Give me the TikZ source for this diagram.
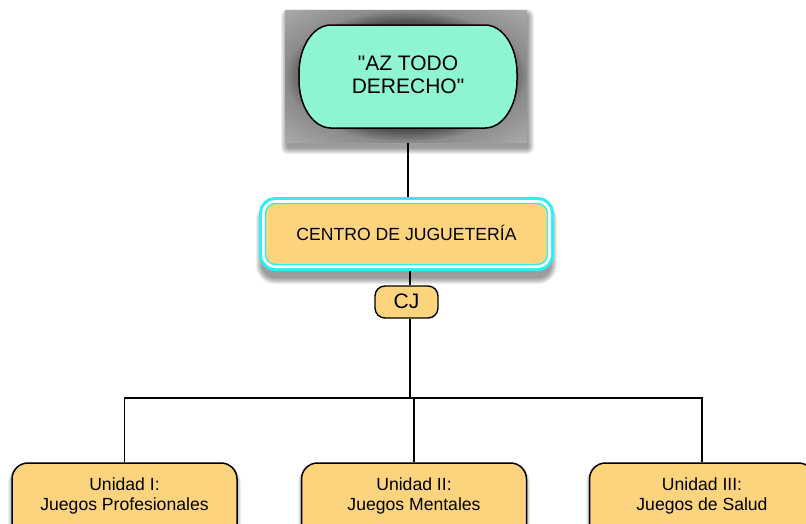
\documentclass[tikz,border=0pt]{standalone}
\usepackage{fontspec}
\setmainfont{Liberation Sans}[Ligatures=TeXOff]
\pgfdeclarelayer{bg}
\pgfsetlayers{bg,main}
\definecolor{mint}{RGB}{142,245,208}
\definecolor{boxorange}{RGB}{253,212,126}
\definecolor{glow}{RGB}{45,238,245}
\definecolor{fdark}{RGB}{62,62,62}
\definecolor{fmid}{RGB}{85,85,85}
\definecolor{flight}{RGB}{140,140,140}
\definecolor{fedge}{RGB}{172,172,172}
\pgfdeclareradialshading{framefill}{\pgfpoint{0bp}{0bp}}{color(0bp)=(fdark); color(17bp)=(fdark); color(21bp)=(fmid); color(25bp)=(flight); color(36bp)=(fedge); color(50bp)=(fedge)}
% soft shadow: x1 y1 x2 y2 radius steps
\newcommand\softshadow[6]{%
  \foreach \i in {1,...,#6}{%
    \fill[black, fill opacity=0.065, rounded corners={#5pt+\i pt}] (#1-\i,#2-\i) rectangle (#3+\i,#4+\i);}}
\tikzset{
  conn/.style={draw=black, line width=1.3pt},
  unitbox/.style={draw=black, line width=1.5pt, fill=boxorange, rounded corners=16pt,
    minimum width=225pt, minimum height=77pt, inner sep=0pt},
  unittext/.style={font=\fontsize{17.6}{20.5}\selectfont, align=center, inner sep=0pt},
}
\begin{document}
\begin{tikzpicture}[x=1pt, y=1pt]
\useasboundingbox (0,0) rectangle (806,-523);
\begin{pgfonlayer}{bg}
  \fill[white] (0,0) rectangle (806,-523);
\end{pgfonlayer}
% gray frame
\softshadow{288}{-147}{527}{-16}{0}{7}
\shade[shading=framefill] (285,-10) rectangle (527,-142);
% mint stadium shape
\draw[line width=1.5pt, fill=mint] (331,-25) -- (485,-25)
  .. controls (502.67,-25) and (517,-46.5) .. (517,-73) -- (517,-80)
  .. controls (517,-106.5) and (502.67,-128) .. (485,-128) -- (331,-128)
  .. controls (313.33,-128) and (299,-106.5) .. (299,-80) -- (299,-73)
  .. controls (299,-46.5) and (313.33,-25) .. (331,-25) -- cycle;
\node[font=\fontsize{21}{23.5}\selectfont, align=center, minimum width=218pt, minimum height=103pt, inner sep=0pt] (top) at (408,-74.7) {"AZ TODO\\DERECHO"};
% centro
\softshadow{263}{-277}{550}{-208}{12}{7}
\node[fill=boxorange, draw=glow, line width=1.4pt, rounded corners=10pt,
  minimum width=282pt, minimum height=61pt, inner sep=0pt,
  preaction={draw=glow, line width=13pt},
  preaction={draw=white, line width=7pt},
  font=\fontsize{17.6}{20}\selectfont, text height=12.5pt, text depth=0pt] (centro) at (406.5,-234) {CENTRO DE JUGUETERÍA};
% CJ
\node[fill=boxorange, draw=black, line width=1.4pt, rounded corners=10pt,
  minimum width=63pt, minimum height=32pt, inner sep=0pt,
  font=\fontsize{21}{24}\selectfont, text height=15pt, text depth=3pt] (cj) at (406.5,-302) {CJ};
% units
\softshadow{13}{-560}{236}{-467}{16}{5}
\softshadow{303}{-560}{525}{-467}{16}{5}
\softshadow{591}{-560}{813}{-467}{16}{5}
\node[unitbox] (u1) at (124.5,-501.5) {};
\node[unitbox] (u2) at (414,-501.5) {};
\node[unitbox] (u3) at (702,-501.5) {};
\node[unittext] (u1t) at (124.5,-496) {Unidad I:\\Juegos Profesionales};
\node[unittext] (u2t) at (414,-496) {Unidad II:\\Juegos Mentales};
\node[unittext] (u3t) at (702,-496) {Unidad III:\\Juegos de Salud};
\coordinate (bus) at (410,-398);
\begin{pgfonlayer}{bg}
  \draw[conn] (top.south) -- (top.south |- centro.north);
  \draw[conn] (centro.south -| bus) -- (cj.north -| bus);
  \draw[conn] (cj.south -| bus) -- (bus);
  \draw[conn] (bus) -| (u1.north);
  \draw[conn] (bus) -| (u2.north);
  \draw[conn] (bus) -| (u3.north);
\end{pgfonlayer}
\end{tikzpicture}
\end{document}
